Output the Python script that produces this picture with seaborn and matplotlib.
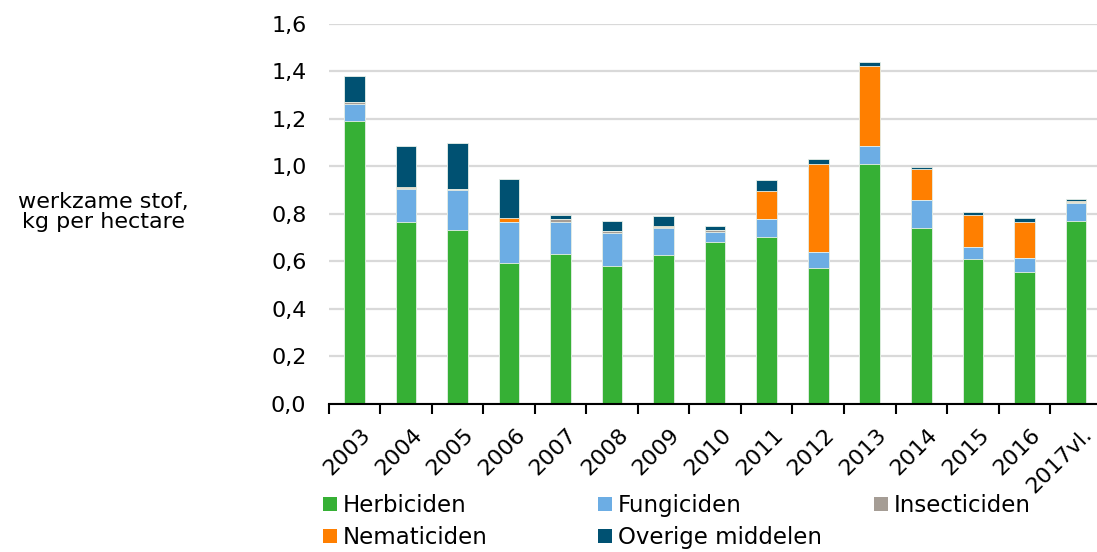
import matplotlib
matplotlib.use("Agg")
import matplotlib.pyplot as plt
import seaborn as sns
import numpy as np
import pandas as pd
from matplotlib.patches import Patch
from matplotlib.transforms import ScaledTranslation

years = ['2003', '2004', '2005', '2006', '2007', '2008', '2009', '2010',
         '2011', '2012', '2013', '2014', '2015', '2016', '2017vl.']
herbiciden = [1.19, 0.765, 0.73, 0.59, 0.63, 0.58, 0.625, 0.68, 0.70, 0.57, 1.008, 0.74, 0.608, 0.555, 0.768]
fungiciden = [0.072, 0.137, 0.167, 0.175, 0.135, 0.14, 0.115, 0.043, 0.078, 0.067, 0.076, 0.115, 0.05, 0.056, 0.078]
insecticiden = [0.008, 0.004, 0.006, 0.0, 0.01, 0.005, 0.002, 0.006, 0.0, 0.0, 0.0, 0.002, 0.0, 0.0, 0.004]
nematiciden = [0.0, 0.004, 0.0, 0.017, 0.0, 0.0, 0.005, 0.0, 0.117, 0.373, 0.338, 0.13, 0.135, 0.152, 0.002]
overige = [0.11, 0.176, 0.195, 0.162, 0.02, 0.045, 0.043, 0.018, 0.045, 0.02, 0.018, 0.008, 0.013, 0.018, 0.01]

series_names = ['Herbiciden', 'Fungiciden', 'Insecticiden', 'Nematiciden', 'Overige middelen']
series_vals = [herbiciden, fungiciden, insecticiden, nematiciden, overige]
colors = ['#36B035', '#6CADE4', '#A59D95', '#FF7F00', '#005172']

sns.set_theme(style='white')
plt.rcParams['font.family'] = ['DejaVu Sans']
plt.rcParams['text.color'] = 'black'
plt.rcParams['xtick.color'] = 'black'
plt.rcParams['ytick.color'] = 'black'

FS = 16
FS_LEG = 16.5

fig = plt.figure(figsize=(10.97, 5.52), dpi=100)
ax = fig.add_axes([0.2996, 0.269, 0.7047, 0.6884])

cum = np.zeros(len(years))
cums = []
for vals in series_vals:
    cum = cum + np.array(vals)
    cums.append(cum.copy())

for name, c, col in reversed(list(zip(series_names, cums, colors))):
    d = pd.DataFrame({'jaar': years, 'waarde': c})
    sns.barplot(data=d, x='jaar', y='waarde', color=col, width=0.4, ax=ax,
                saturation=1, edgecolor='#E8F0E8', linewidth=0.6, zorder=3)

ax.set_xlim(-0.5, len(years) - 0.5)
ax.set_ylim(0, 1.6)
yt = np.arange(0, 1.61, 0.2)
ax.set_yticks(yt)
ax.set_yticklabels([f"{v:.1f}".replace('.', ',') for v in yt], fontsize=FS)
ax.yaxis.grid(True, color='#D9D9D9', linewidth=1.6, zorder=0)
ax.set_axisbelow(True)
ax.tick_params(axis='y', length=0, pad=16, labelcolor='black')
for s in ['top', 'right', 'left']:
    ax.spines[s].set_visible(False)
ax.spines['bottom'].set_color('black')
ax.spines['bottom'].set_linewidth(1.5)
ax.spines['bottom'].set_zorder(5)

ax.set_xticks(range(len(years)))
ax.set_xticklabels(years, rotation=45, ha='right', va='top', rotation_mode='anchor', fontsize=FS)
ax.set_xticks(np.arange(-0.5, len(years), 1.0), minor=True)
ax.tick_params(axis='x', which='major', length=0, pad=15)
ax.tick_params(axis='x', which='minor', length=7, width=1.5, color='black', direction='out', bottom=True)
offset = ScaledTranslation(6 / 100, 0, fig.dpi_scale_trans)
for lbl in ax.get_xticklabels():
    lbl.set_transform(lbl.get_transform() + offset)
ax.set_xlabel('')
ax.set_ylabel('')

fig.text(103.5 / 1097, 1 - 212 / 552, 'werkzame stof,\nkg per hectare', ha='center', va='center',
         fontsize=FS, linespacing=1.02)

handles = [Patch(facecolor=c, edgecolor='none', label=n) for n, c in zip(series_names, colors)]
col_groups = [[0, 3], [1, 4], [2]]
col_x = [323, 598, 874]
for xs, grp in zip(col_x, col_groups):
    fig.legend(handles=[handles[i] for i in grp], loc='upper left',
               bbox_to_anchor=(xs / 1097, 1 - 494 / 552), frameon=False, fontsize=FS_LEG,
               handlelength=0.6, handleheight=0.6, handletextpad=0.27, labelspacing=0.4,
               borderaxespad=0, borderpad=0)

fig.savefig('out.png', dpi=100)
